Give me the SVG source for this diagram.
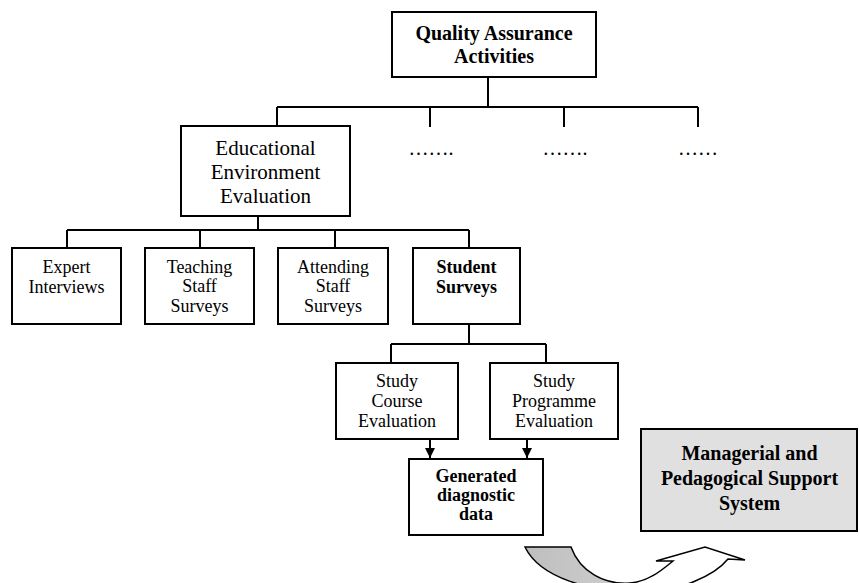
<svg xmlns="http://www.w3.org/2000/svg" width="860" height="583" viewBox="0 0 860 583">
<style>
.box{fill:#fff;stroke:#000;stroke-width:2}
.gbox{fill:#e0e0e0;stroke:#000;stroke-width:2}
.ln{fill:none;stroke:#000;stroke-width:2}
text{font-family:"Liberation Serif","Times New Roman",serif;fill:#000;text-anchor:middle}
.t18{font-size:18px}
.t20{font-size:20px}
.t21{font-size:21px}
.b{font-weight:bold}
</style>
<defs>
<marker id="ah" viewBox="0 0 10 10" refX="10" refY="5" markerWidth="10" markerHeight="10" markerUnits="userSpaceOnUse" orient="auto">
<path d="M0,0 L10,5 L0,10 Z" fill="#000"/>
</marker>
<linearGradient id="cg" gradientUnits="userSpaceOnUse" x1="525" y1="0" x2="745" y2="0">
<stop offset="0" stop-color="#bebebe"/>
<stop offset="0.42" stop-color="#cdcdcd"/>
<stop offset="0.5" stop-color="#ffffff"/>
<stop offset="1" stop-color="#ffffff"/>
</linearGradient>
</defs>
<g id="connectors">
<path class="ln" d="M488,77 V107 M277,107 H698 M277,107 V126 M430,107 V127 M564,107 V127 M698,107 V127"/>
<path class="ln" d="M258,216 V230 M67,230 H469 M67,230 V248 M200,230 V248 M335,230 V248 M469,230 V248"/>
<path class="ln" d="M469,324 V344 M391,344 H546 M391,344 V363 M546,344 V363"/>
<line class="ln" x1="430" y1="439" x2="430" y2="458" marker-end="url(#ah)"/>
<line class="ln" x1="527" y1="439" x2="527" y2="458" marker-end="url(#ah)"/>
<path id="curved-arrow" d="M525,547 L571,547 C580,572 605,585 630,583 C648,582 662,570 673,561 L656,561 L705,547 L745,560 L728,559 C715,575 680,592 640,592 C590,592 540,578 525,547 Z" fill="url(#cg)" stroke="#000" stroke-width="1.5"/>
</g>
<g id="qa">
<rect class="box" x="392" y="12" width="204" height="65"/>
<text class="t20 b" x="494" y="40">Quality Assurance</text>
<text class="t20 b" x="494" y="63">Activities</text>
</g>
<g id="eee">
<rect class="box" x="181" y="126" width="169" height="90"/>
<text class="t21" x="265.5" y="155">Educational</text>
<text class="t21" x="265.5" y="179">Environment</text>
<text class="t21" x="265.5" y="203">Evaluation</text>
</g>
<g id="dots1"><text class="t20" x="431" y="155">…….</text></g>
<g id="dots2"><text class="t20" x="565" y="155">…….</text></g>
<g id="dots3"><text class="t20" x="698" y="155">……</text></g>
<g id="expert">
<rect class="box" x="12" y="248" width="109" height="76"/>
<text class="t18" x="66.5" y="273">Expert</text>
<text class="t18" x="66.5" y="293">Interviews</text>
</g>
<g id="teaching">
<rect class="box" x="145" y="248" width="109" height="76"/>
<text class="t18" x="199.5" y="273">Teaching</text>
<text class="t18" x="199.5" y="292">Staff</text>
<text class="t18" x="199.5" y="312">Surveys</text>
</g>
<g id="attending">
<rect class="box" x="278" y="248" width="110" height="76"/>
<text class="t18" x="333" y="273">Attending</text>
<text class="t18" x="333" y="292">Staff</text>
<text class="t18" x="333" y="312">Surveys</text>
</g>
<g id="student">
<rect class="box" x="413" y="248" width="107" height="76"/>
<text class="t18 b" x="466.5" y="273">Student</text>
<text class="t18 b" x="466.5" y="293">Surveys</text>
</g>
<g id="course">
<rect class="box" x="336" y="363" width="122" height="76"/>
<text class="t18" x="397" y="387">Study</text>
<text class="t18" x="397" y="407">Course</text>
<text class="t18" x="397" y="427">Evaluation</text>
</g>
<g id="programme">
<rect class="box" x="490" y="363" width="128" height="76"/>
<text class="t18" x="554" y="387">Study</text>
<text class="t18" x="554" y="407">Programme</text>
<text class="t18" x="554" y="427">Evaluation</text>
</g>
<g id="generated">
<rect class="box" x="409" y="459" width="134" height="76"/>
<text class="t18 b" x="476" y="482">Generated</text>
<text class="t18 b" x="476" y="501">diagnostic</text>
<text class="t18 b" x="476" y="520">data</text>
</g>
<g id="managerial">
<rect class="gbox" x="641" y="429" width="216" height="102"/>
<text class="t20 b" x="749.5" y="460">Managerial and</text>
<text class="t20 b" x="749.5" y="485">Pedagogical Support</text>
<text class="t20 b" x="749.5" y="510">System</text>
</g>
</svg>
